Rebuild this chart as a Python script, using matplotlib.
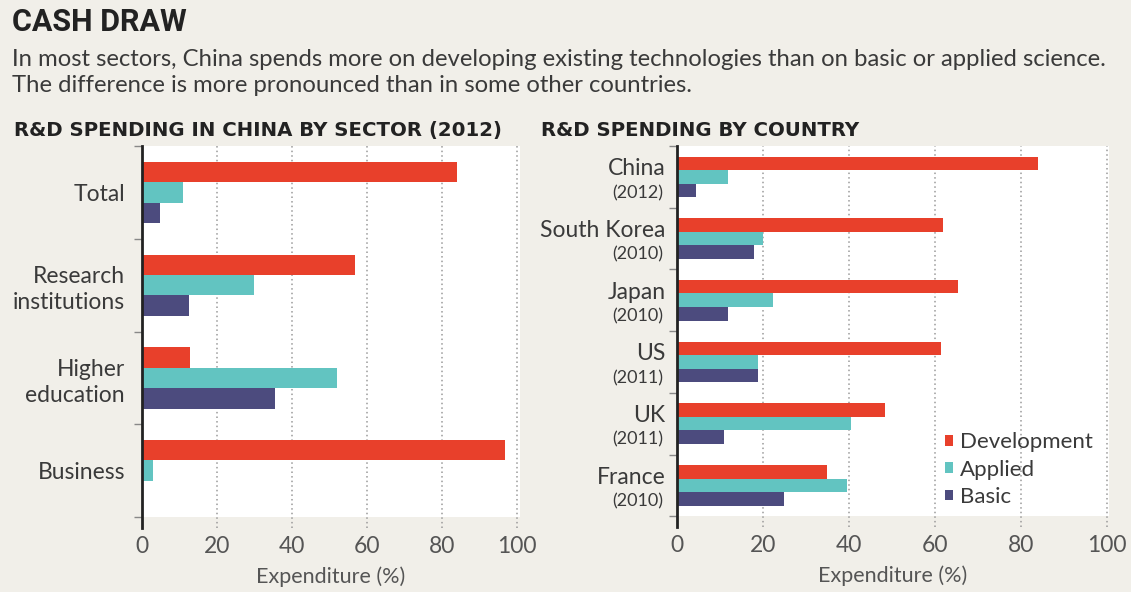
import numpy as np
import matplotlib
matplotlib.use("Agg")
import matplotlib.pyplot as plt
from matplotlib.patches import Patch

# Data
sectors = ["Total", "Research\ninstitutions", "Higher\neducation", "Business"]
sector_dev = [84, 57, 13, 97]
sector_applied = [11, 30, 52, 3]
sector_basic = [5, 12.5, 35.5, 0]

countries = ["China", "South Korea", "Japan", "US", "UK", "France"]
years = ["(2012)", "(2010)", "(2010)", "(2011)", "(2011)", "(2010)"]
country_dev = [84, 62, 65.5, 61.5, 48.5, 35]
country_applied = [12, 20, 22.5, 19, 40.5, 39.5]
country_basic = [4.5, 18, 12, 19, 11, 25]

series_names = ["Development", "Applied", "Basic"]
xticks = [0, 20, 40, 60, 80, 100]

# Colours
BG = "#f1efe9"
RED = "#e8402b"
CYAN = "#62c4c1"
NAVY = "#4c4b7e"
colors = [RED, CYAN, NAVY]
TXT = "#3a3a3a"
LIGHT = "#555555"

plt.rcParams["font.family"] = ["Lato", "DejaVu Sans"]

fig = plt.figure(figsize=(11.31, 5.92), dpi=100, facecolor=BG)

bar_h = 0.22


def style_axes(ax, n, ybottom, xright):
    ax.set_facecolor(BG)
    ax.axhspan(-0.5, n - 0.5, color="white", zorder=0.1, lw=0)
    ax.set_ylim(ybottom, -0.5)
    ax.set_xlim(0, xright)
    for s in ["top", "right", "bottom"]:
        ax.spines[s].set_visible(False)
    ax.spines["left"].set_color("#222222")
    ax.spines["left"].set_linewidth(2.0)
    ax.set_xticks(xticks)
    ax.set_xticklabels([str(t) for t in xticks])
    ax.tick_params(axis="x", length=0, pad=6, labelsize=16.5, labelcolor=LIGHT)
    ax.set_yticks(np.arange(-0.5, n, 1.0), minor=True)
    ax.tick_params(axis="y", which="minor", length=6, width=1, color="#888888")
    ax.set_axisbelow(True)
    ax.xaxis.grid(True, color="#9a9a9a", linestyle=(0, (1, 2)), linewidth=1.1)
    ax.set_xlabel("Expenditure (%)", fontsize=15.5, color=LIGHT, labelpad=7)


def draw_bars(ax, dev, applied, basic):
    y = np.arange(len(dev))
    for i, (vals, c) in enumerate(zip([dev, applied, basic], colors)):
        ax.barh(y + (i - 1) * bar_h, vals, height=bar_h, color=c, zorder=2, lw=0)


# Left: by sector
ax1 = fig.add_axes([0.1253, 0.1086, 0.3349, 0.6448])
draw_bars(ax1, sector_dev, sector_applied, sector_basic)
style_axes(ax1, len(sectors), 3.615, 101)
ax1.set_yticks(np.arange(len(sectors)))
ax1.set_yticklabels(sectors, fontsize=16.5, color=TXT, linespacing=1.3)
ax1.tick_params(axis="y", which="major", length=0, pad=12)

# Right: by country
ax2 = fig.add_axes([0.5983, 0.1103, 0.3821, 0.643])
draw_bars(ax2, country_dev, country_applied, country_basic)
style_axes(ax2, len(countries), 5.67, 100.5)
ax2.set_yticks([])
tr = ax2.get_yaxis_transform()
for i, (c, yr) in enumerate(zip(countries, years)):
    ax2.text(-0.026, i - 0.13, c, transform=tr, ha="right", va="center",
             fontsize=16.5, color=TXT)
    ax2.text(-0.03, i + 0.26, yr, transform=tr, ha="right", va="center",
             fontsize=13, color=TXT)

handles = [Patch(facecolor=c, edgecolor="none") for c in colors]
ax2.legend(handles, series_names, loc="center left", bbox_to_anchor=(0.62, 0.15),
           frameon=False, fontsize=16, handlelength=0.38, handleheight=0.38,
           handletextpad=0.3, labelspacing=0.33, borderpad=0, borderaxespad=0,
           labelcolor=TXT)

# Titles
fig.text(0.0106, 0.962, "CASH DRAW", fontsize=22, fontweight="bold",
         family=["DejaVu Sans Condensed", "Liberation Sans Narrow", "Roboto"],
         color="#222222", va="center", ha="left")
fig.text(0.0106, 0.899,
         "In most sectors, China spends more on developing existing technologies than on basic or applied science.",
         fontsize=17.2, color=TXT, va="center", ha="left")
fig.text(0.0106, 0.855, "The difference is more pronounced than in some other countries.",
         fontsize=17.2, color=TXT, va="center", ha="left")
fig.text(0.0124, 0.78, "R&D SPENDING IN CHINA BY SECTOR (2012)", fontsize=14.2,
         fontweight="bold", family=["DejaVu Sans"],
         color="#222222", va="center", ha="left")
fig.text(0.4783, 0.78, "R&D SPENDING BY COUNTRY", fontsize=14.2,
         fontweight="bold", family=["DejaVu Sans"],
         color="#222222", va="center", ha="left")

fig.savefig("out.png", dpi=100, facecolor=BG)
